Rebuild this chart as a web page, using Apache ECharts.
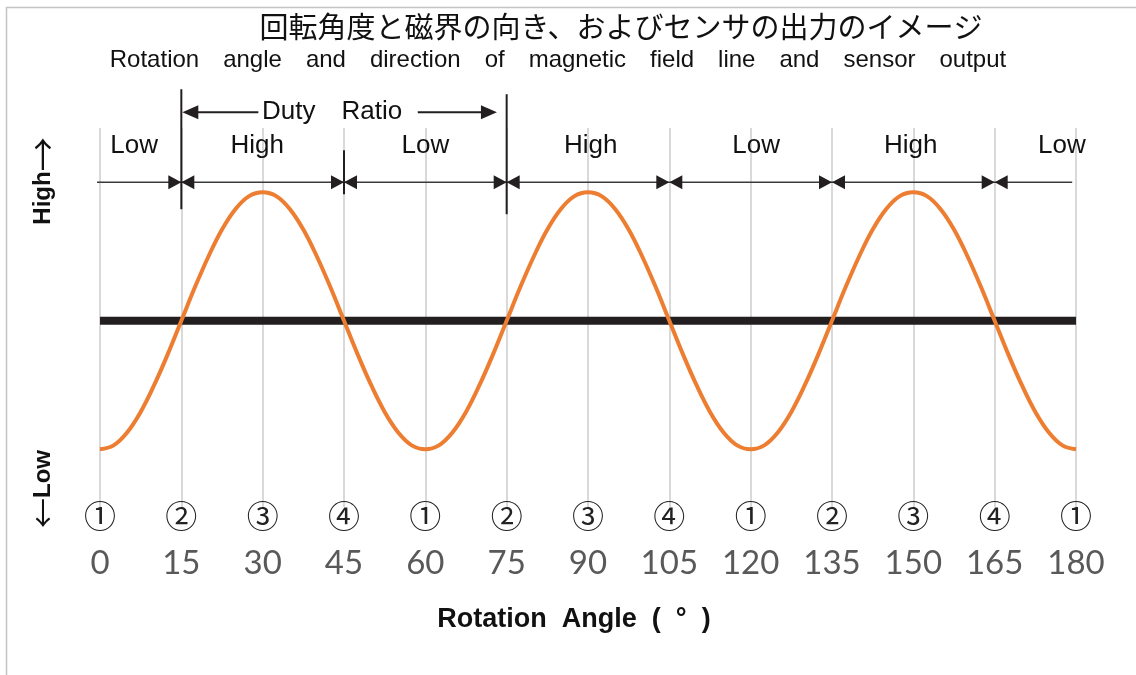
<!DOCTYPE html>
<html>
<head>
<meta charset="utf-8">
<script src="https://cdn.jsdelivr.net/npm/echarts@6/dist/echarts.min.js"></script>
<style>html,body{margin:0;padding:0;background:#fff;}#c{width:1136px;height:675px;}</style>
</head>
<body>
<div id="c"></div>
<script>
// ---- data ----
const titleJa = '回転角度と磁界の向き、およびセンサの出力のイメージ';
const titleEnWords = ['Rotation', 'angle', 'and', 'direction', 'of', 'magnetic', 'field', 'line', 'and', 'sensor', 'output'];
const xAxisTitle = 'Rotation  Angle  (  °  )';
const xTicks = [0, 15, 30, 45, 60, 75, 90, 105, 120, 135, 150, 165, 180];
const circledLabels = ['①','②','③','④','①','②','③','④','①','②','③','④','①'];
// orange sensor output, sampled every 2.5°
const angles = [0,2.5,5,7.5,10,12.5,15,17.5,20,22.5,25,27.5,30,32.5,35,37.5,40,42.5,45,47.5,50,52.5,55,57.5,
  60,62.5,65,67.5,70,72.5,75,77.5,80,82.5,85,87.5,90,92.5,95,97.5,100,102.5,105,107.5,110,112.5,115,117.5,
  120,122.5,125,127.5,130,132.5,135,137.5,140,142.5,145,147.5,150,152.5,155,157.5,160,162.5,165,167.5,170,172.5,175,177.5,180];
const sensorOutput = [-1,-0.97,-0.87,-0.71,-0.5,-0.26,0,0.26,0.5,0.71,0.87,0.97,1,0.97,0.87,0.71,0.5,0.26,0,-0.26,-0.5,-0.71,-0.87,-0.97,
  -1,-0.97,-0.87,-0.71,-0.5,-0.26,0,0.26,0.5,0.71,0.87,0.97,1,0.97,0.87,0.71,0.5,0.26,0,-0.26,-0.5,-0.71,-0.87,-0.97,
  -1,-0.97,-0.87,-0.71,-0.5,-0.26,0,0.26,0.5,0.71,0.87,0.97,1,0.97,0.87,0.71,0.5,0.26,0,-0.26,-0.5,-0.71,-0.87,-0.97,-1];
const thresholdX = [0, 180];
const thresholdY = [0, 0];
const boundaries = [15, 45, 75, 105, 135, 165];
const stateLabels = ['Low','High','Low','High','Low','High','Low'];
const stateLabelX = [6.3, 29, 60, 90.5, 121, 149.5, 177.4];
const dutyStart = 15, dutyEnd = 75;
const dutyLabel = 'Duty\u2003Ratio';

const chart = echarts.init(document.getElementById('c'), null, {renderer: 'canvas'});
const sansFont = '"Liberation Sans", Arial, sans-serif';

const option = {
  animation: false,
  backgroundColor: '#fff',
  grid: {left: 100, right: 60, top: 128, height: 379},
  xAxis: {
    type: 'value', min: 0, max: 180, interval: 15,
    axisLine: {show: false}, axisTick: {show: false},
    splitLine: {show: true, lineStyle: {color: '#d9d9d9', width: 2}},
    axisLabel: {
      margin: 0,
      formatter: function (v) {
        const i = xTicks.indexOf(v);
        return '{c|' + circledLabels[i] + '}\n{n|' + v + '}';
      },
      rich: {
        c: {fontFamily: '"DejaVu Serif", "Noto Sans CJK JP", serif', fontSize: 32, color: '#222', lineHeight: 26},
        n: {fontFamily: 'Lato, "Open Sans", sans-serif', fontSize: 33, color: '#595959', lineHeight: 60}
      }
    }
  },
  yAxis: {type: 'value', min: -1.45, max: 1.5, show: false, splitLine: {show: false}},
  graphic: [
    {type: 'rect', shape: {x: 6.5, y: 7.5, width: 1300, height: 900}, style: {fill: 'none', stroke: '#c4c4c4', lineWidth: 1.5}, silent: true},
    {type: 'text', x: 621, y: 27, style: {text: titleJa, font: '29px "Noto Sans CJK JP"', fill: '#111', align: 'center', verticalAlign: 'middle'}},
    {type: 'text', x: 558, y: 60, style: {text: titleEnWords.join('\u2003'), font: '24px ' + sansFont, fill: '#111', align: 'center', verticalAlign: 'middle'}},
    {type: 'text', x: 574, y: 620, style: {text: xAxisTitle, font: 'bold 27px ' + sansFont, fill: '#111', align: 'center', verticalAlign: 'middle'}},
    {type: 'text', x: 43, y: 181, rotation: Math.PI / 2, style: {
      text: '{t|High}{a|→}', align: 'center', verticalAlign: 'middle',
      rich: {t: {font: 'bold 24px ' + sansFont, fill: '#111'}, a: {font: '34px "Noto Sans CJK JP"', fill: '#111'}}}},
    {type: 'text', x: 43, y: 489, rotation: Math.PI / 2, style: {
      text: '{a|←}{t|Low}', align: 'center', verticalAlign: 'middle',
      rich: {t: {font: 'bold 24px ' + sansFont, fill: '#111'}, a: {font: '30px "Noto Sans CJK JP"', fill: '#111'}}}}
  ],
  series: [
    {
      type: 'line', data: thresholdX.map((x, i) => [x, thresholdY[i]]),
      symbol: 'none', lineStyle: {color: '#231f20', width: 8}, z: 2
    },
    {
      type: 'line', data: angles.map((a, i) => [a, sensorOutput[i]]),
      smooth: 0.4, symbol: 'none', lineStyle: {color: '#ed7d31', width: 4}, z: 3
    },
    {
      type: 'custom', data: [0], clip: false, z: 4,
      renderItem: function (params, api) {
        const ch = [];
        const rowY = api.coord([0, 1.078])[1];
        const xa = api.coord([-0.55, 0])[0], xb = api.coord([179.3, 0])[0];
        const ink = '#231f20';
        ch.push({type: 'line', shape: {x1: xa, y1: rowY, x2: xb, y2: rowY}, style: {stroke: '#3a3a3a', lineWidth: 1.5}});
        boundaries.forEach(function (b) {
          const x = api.coord([b, 0])[0];
          ch.push({type: 'polygon', shape: {points: [[x, rowY], [x - 13, rowY - 7], [x - 13, rowY + 7]]}, style: {fill: ink}});
          ch.push({type: 'polygon', shape: {points: [[x, rowY], [x + 13, rowY - 7], [x + 13, rowY + 7]]}, style: {fill: ink}});
        });
        // vertical marker lines
        const vx15 = api.coord([dutyStart, 0])[0], vx45 = api.coord([45, 0])[0], vx75 = api.coord([dutyEnd, 0])[0];
        ch.push({type: 'line', shape: {x1: vx15, y1: rowY - 93, x2: vx15, y2: rowY + 27}, style: {stroke: ink, lineWidth: 2}});
        ch.push({type: 'line', shape: {x1: vx45, y1: rowY - 32, x2: vx45, y2: rowY + 12}, style: {stroke: ink, lineWidth: 2}});
        ch.push({type: 'line', shape: {x1: vx75, y1: rowY - 88, x2: vx75, y2: rowY + 32}, style: {stroke: ink, lineWidth: 2}});
        // duty ratio arrow
        const dy = rowY - 70;
        const dl = api.coord([29.2, 0])[0], dr0 = api.coord([58.6, 0])[0], dr1 = api.coord([73.2, 0])[0];
        ch.push({type: 'line', shape: {x1: vx15 + 10, y1: dy, x2: dl, y2: dy}, style: {stroke: ink, lineWidth: 2}});
        ch.push({type: 'polygon', shape: {points: [[vx15 + 1, dy], [vx15 + 17, dy - 7], [vx15 + 17, dy + 7]]}, style: {fill: ink}});
        ch.push({type: 'line', shape: {x1: dr0, y1: dy, x2: dr1 - 10, y2: dy}, style: {stroke: ink, lineWidth: 2}});
        ch.push({type: 'polygon', shape: {points: [[dr1, dy], [dr1 - 16, dy - 7], [dr1 - 16, dy + 7]]}, style: {fill: ink}});
        ch.push({type: 'text', x: api.coord([42.8, 0])[0], y: dy, style: {text: dutyLabel, font: '26px ' + sansFont, fill: '#111', align: 'center', verticalAlign: 'middle'}});
        // state labels
        stateLabels.forEach(function (t, i) {
          ch.push({type: 'text', x: api.coord([stateLabelX[i], 0])[0], y: rowY - 36, style: {text: t, font: '26px ' + sansFont, fill: '#111', align: 'center', verticalAlign: 'middle'}});
        });
        return {type: 'group', children: ch};
      }
    }
  ]
};
chart.setOption(option);
</script>
</body>
</html>
